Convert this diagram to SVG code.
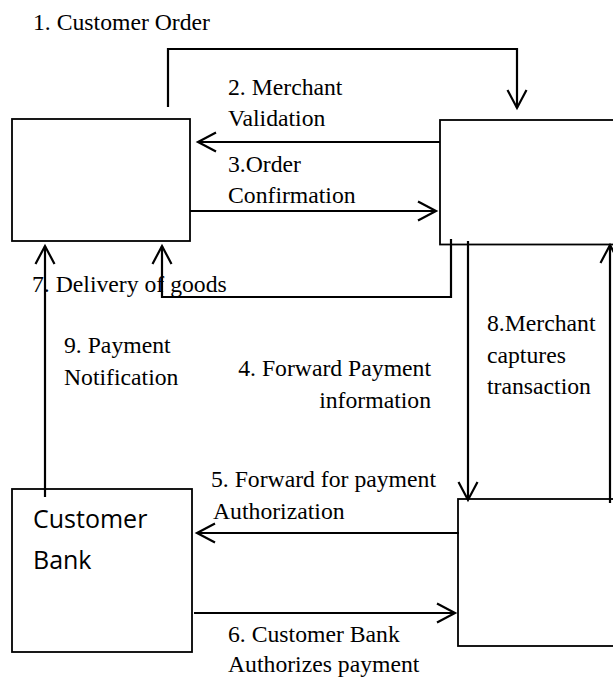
<svg xmlns="http://www.w3.org/2000/svg" width="613" height="677" viewBox="0 0 613 677">
  <style>
    .box { fill: #fff; stroke: #000; stroke-width: 1.8; }
    .con { fill: none; stroke: #000; stroke-width: 2.2; marker-end: url(#ah); }
    .lbl { font-family: "Liberation Serif", "Times New Roman", serif; font-size: 23.7px; fill: #000; }
    .end { text-anchor: end; }
    .nlbl { font-family: "Open Sans", "Noto Sans", sans-serif; font-size: 25px; fill: #000; }
  </style>
  <defs>
    <marker id="ah" markerWidth="24" markerHeight="24" viewBox="-20 -12 24 24" refX="0" refY="0" orient="auto" markerUnits="userSpaceOnUse" overflow="visible">
      <path d="M-18,-9.5 L0,0 L-18,9.5" fill="none" stroke="#000" stroke-width="2.2"/>
    </marker>
  </defs>
  <rect width="613" height="677" fill="#fff"/>

  <g id="customer">
    <rect class="box" x="12" y="119" width="178" height="122"/>
  </g>
  <g id="merchant">
    <rect class="box" x="440" y="120" width="200" height="124.5"/>
  </g>
  <g id="customer-bank">
    <rect class="box" x="12" y="489" width="180" height="163"/>
    <text class="nlbl" x="33" y="528">Customer</text>
    <text class="nlbl" x="33" y="569">Bank</text>
  </g>
  <g id="merchant-bank">
    <rect class="box" x="458" y="499" width="200" height="147"/>
  </g>

  <g id="connectors">
    <path class="con" d="M168,107 V49 H517 V108"/>
    <path class="con" d="M440,142 H198"/>
    <path class="con" d="M190,211 H436"/>
    <path class="con" d="M451,239 V297 H162 V246"/>
    <path class="con" d="M45,497 V246"/>
    <path class="con" d="M468,241 V500"/>
    <path class="con" d="M610,503 V245"/>
    <path class="con" d="M459,533 H197"/>
    <path class="con" d="M194,613 H455"/>
  </g>

  <g id="labels">
    <text class="lbl" x="33" y="30">1. Customer Order</text>
    <text class="lbl" x="228" y="95">2. Merchant</text>
    <text class="lbl" x="228" y="126">Validation</text>
    <text class="lbl" x="228" y="172">3.Order</text>
    <text class="lbl" x="228" y="203">Confirmation</text>
    <text class="lbl" x="32" y="292">7. Delivery of goods</text>
    <text class="lbl" x="64" y="353">9. Payment</text>
    <text class="lbl" x="64" y="385">Notification</text>
    <text class="lbl end" x="431" y="376">4. Forward Payment</text>
    <text class="lbl end" x="431" y="408">information</text>
    <text class="lbl" x="487" y="331">8.Merchant</text>
    <text class="lbl" x="487" y="363">captures</text>
    <text class="lbl" x="487" y="394">transaction</text>
    <text class="lbl" x="211" y="487">5. Forward for payment</text>
    <text class="lbl" x="213" y="519">Authorization</text>
    <text class="lbl" x="228" y="642">6. Customer Bank</text>
    <text class="lbl" x="228" y="672">Authorizes payment</text>
  </g>
</svg>
